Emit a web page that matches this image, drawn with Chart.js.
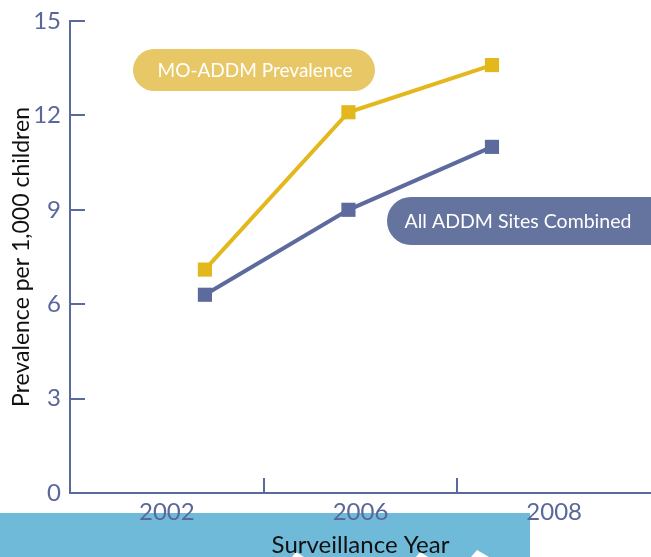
<!DOCTYPE html>
<html>
<head>
<meta charset="utf-8">
<script src="https://cdn.jsdelivr.net/npm/chart.js@4/dist/chart.umd.min.js"></script>
<style>
  html, body { margin: 0; padding: 0; background: #ffffff; }
  #wrap { width: 651px; height: 557px; position: relative; }
</style>
</head>
<body>
<div id="wrap"><canvas id="chart"></canvas></div>
<script>
// Surveillance years shown on the category axis
const years = ['2002', '2006', '2008'];
// Position of each survey along the plotted line (one step per survey)
const surveyIndex = [0, 1, 2];
// Prevalence per 1,000 children
const moAddm = [7.1, 12.1, 13.6];
const allSites = [6.3, 9.0, 11.0];
// Value axis range
const yMin = 0, yMax = 15, yStep = 3;

const AXIS = '#5b6a9e';
const LABEL = '#5a6799';
const GOLD = '#e3b81d';
const SLATE = '#5c6a9d';
const FONT = 'Lato, "Open Sans", sans-serif';

const toPoints = vals => vals.map((v, i) => ({ x: surveyIndex[i], y: v }));

const decor = {
  id: 'decor',
  beforeDraw(chart) {
    const { ctx, chartArea, height } = chart;
    ctx.save();
    // band behind the axis title
    ctx.fillStyle = '#6fbad9';
    ctx.fillRect(0, chartArea.bottom + 20, 530, height - chartArea.bottom - 20);
    // small white pointers along the bottom edge
    ctx.fillStyle = '#ffffff';
    [[296, 4], [420, 4], [477, 6]].forEach(([cx, s]) => {
      ctx.beginPath();
      ctx.moveTo(cx - s, height);
      ctx.lineTo(cx, height - s - 1);
      ctx.lineTo(cx + s * 2, height);
      ctx.closePath();
      ctx.fill();
    });
    ctx.restore();
  },
  afterDraw(chart) {
    const { ctx, chartArea, scales } = chart;
    const x = scales.x, y = scales.y;
    ctx.save();
    ctx.strokeStyle = AXIS;
    ctx.lineWidth = 2;
    // inward tick marks on the value axis
    y.ticks.forEach(t => {
      const py = Math.round(y.getPixelForValue(t.value));
      ctx.beginPath();
      ctx.moveTo(chartArea.left, py);
      ctx.lineTo(chartArea.left + 15, py);
      ctx.stroke();
    });
    // inward tick marks between year categories
    for (let i = 0; i < years.length - 1; i++) {
      const px = Math.round((x.getPixelForValue(i) + x.getPixelForValue(i + 1)) / 2);
      ctx.beginPath();
      ctx.moveTo(px, chartArea.bottom);
      ctx.lineTo(px, chartArea.bottom - 15);
      ctx.stroke();
    }
    // series name tags
    const tag = (x0, y0, w, h, fill, text, tx, size) => {
      ctx.fillStyle = fill;
      ctx.beginPath();
      ctx.roundRect(x0, y0, w, h, h / 2);
      ctx.fill();
      ctx.fillStyle = '#ffffff';
      ctx.font = size + 'px ' + FONT;
      ctx.textAlign = 'center';
      ctx.textBaseline = 'middle';
      ctx.fillText(text, tx, y0 + h / 2 + 1);
    };
    tag(133, 49, 242, 42, '#e8c866', 'MO-ADDM Prevalence', 255, 19);
    tag(387, 197, 300, 48, '#65739f', 'All ADDM Sites Combined', 518, 19.5);
    ctx.restore();
  }
};

new Chart(document.getElementById('chart'), {
  type: 'line',
  data: {
    labels: years,
    datasets: [
      {
        label: 'MO-ADDM Prevalence',
        data: toPoints(moAddm),
        xAxisID: 'xp',
        borderColor: GOLD,
        backgroundColor: GOLD,
        borderWidth: 4,
        pointStyle: 'rect',
        pointRadius: 10,
        pointBorderWidth: 0,
        tension: 0
      },
      {
        label: 'All ADDM Sites Combined',
        data: toPoints(allSites),
        xAxisID: 'xp',
        borderColor: SLATE,
        backgroundColor: SLATE,
        borderWidth: 4,
        pointStyle: 'rect',
        pointRadius: 10,
        pointBorderWidth: 0,
        tension: 0
      }
    ]
  },
  options: {
    responsive: true,
    maintainAspectRatio: false,
    animation: false,
    layout: { autoPadding: false, padding: { top: 21, right: 0, bottom: 0, left: 0 } },
    plugins: { legend: { display: false }, tooltip: { enabled: false } },
    scales: {
      x: {
        type: 'category',
        offset: true,
        grid: { display: false, drawTicks: false },
        border: { display: true, color: AXIS, width: 2 },
        ticks: { color: LABEL, padding: 5, font: { family: FONT, size: 24 } },
        title: {
          display: true,
          text: 'Surveillance Year',
          color: '#111111',
          font: { family: FONT, size: 24, lineHeight: 1 },
          padding: { top: 0, bottom: 0 }
        },
        afterFit(scale) {
          scale.height = 64;
          scale.paddingLeft = 0;
          scale.paddingRight = 0;
        }
      },
      xp: {
        type: 'linear',
        display: false,
        min: -0.94,
        max: 3.108
      },
      y: {
        type: 'linear',
        min: yMin,
        max: yMax,
        grid: { display: false, drawTicks: false },
        border: { display: true, color: AXIS, width: 2 },
        ticks: { stepSize: yStep, color: LABEL, padding: 9, font: { family: FONT, size: 24 } },
        title: {
          display: true,
          text: 'Prevalence per 1,000 children',
          color: '#111111',
          font: { family: FONT, size: 23, lineHeight: 1 },
          padding: { top: 10, bottom: 0 }
        },
        afterFit(scale) {
          scale.width = 70;
          scale.paddingTop = 0;
          scale.paddingBottom = 0;
        }
      }
    }
  },
  plugins: [decor]
});
</script>
</body>
</html>
